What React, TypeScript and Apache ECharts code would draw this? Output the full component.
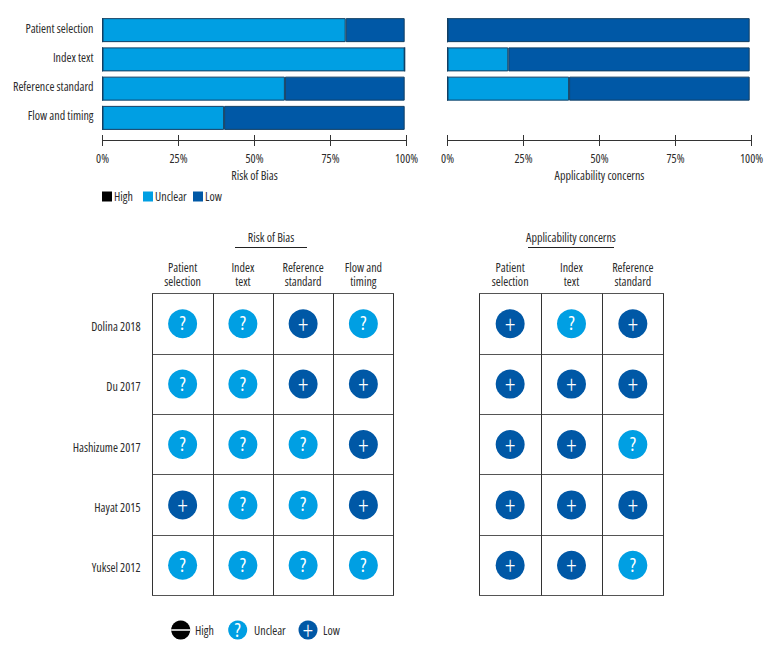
import React, { useEffect, useRef } from "react";
import * as echarts from "echarts";

const FONT = '"Open Sans", "Noto Sans", sans-serif';
const TEXT = "#2b2b2b";
const UNCLEAR = "#009FE3";
const LOW = "#0058A6";
const HIGH = "#000000";
const EDGE = "#123F63";

const summaryDomains = ["Patient selection", "Index text", "Reference standard", "Flow and timing"];
const riskUnclear = [80, 99.4, 60, 40];
const riskLow = [19.4, 0, 39.4, 59.4];
const riskHigh = [0, 0, 0, 0];
const applicabilityUnclear = [0, 20, 40, null];
const applicabilityLow = [99.4, 79.4, 59.4, null];
const applicabilityHigh = [0, 0, 0, null];
const percentTicks = ["0%", "25%", "50%", "75%", "100%"];

const studies = ["Dolina 2018", "Du 2017", "Hashizume 2017", "Hayat 2015", "Yuksel 2012"];
const riskColumns = ["Patient\nselection", "Index\ntext", "Reference\nstandard", "Flow and\ntiming"];
const applicabilityColumns = ["Patient\nselection", "Index\ntext", "Reference\nstandard"];
const riskJudgements = [
  ["?", "?", "+", "?"],
  ["?", "?", "+", "+"],
  ["?", "?", "?", "+"],
  ["+", "?", "?", "+"],
  ["?", "?", "?", "?"],
];
const applicabilityJudgements = [
  ["+", "?", "+"],
  ["+", "+", "+"],
  ["+", "+", "?"],
  ["+", "+", "+"],
  ["+", "+", "?"],
];

const FS = 12;

const toPoints = (rows: string[][]) =>
  rows.flatMap((row, y) =>
    row.map((mark, x) => ({
      value: [x, y],
      mark,
      itemStyle: { color: mark === "+" ? LOW : UNCLEAR, opacity: 1 },
      label:
        mark === "+"
          ? { fontSize: 25, fontWeight: 300, offset: [0, 0] }
          : { fontSize: 20, fontWeight: 400, offset: [0, -1] },
    }))
  );

const percentAxis = (gridIndex: number, name: string, main: boolean) => ({
  type: "value",
  gridIndex,
  min: 0,
  max: 100,
  interval: 25,
  position: "bottom",
  offset: 8,
  name: main ? name : undefined,
  nameLocation: "middle",
  nameGap: 29,
  nameTextStyle: { fontFamily: FONT, fontSize: FS, color: TEXT },
  splitLine: { show: false },
  axisLine: { show: true, lineStyle: { color: "#333", width: 1 } },
  axisTick: { show: true, inside: !main, length: 5.5, lineStyle: { color: "#333", width: 1 } },
  axisLabel: {
    show: main,
    margin: 12,
    fontFamily: FONT,
    fontSize: FS,
    color: TEXT,
    hideOverlap: false,
    showMinLabel: true,
    showMaxLabel: true,
    formatter: (v: number) => percentTicks[v / 25],
  },
});

const barCategoryAxis = (gridIndex: number, labels: boolean) => ({
  type: "category",
  gridIndex,
  data: summaryDomains,
  inverse: true,
  axisLine: { show: false },
  axisTick: { show: false },
  axisLabel: {
    show: labels,
    margin: 9,
    formatter: (v: string) => `{a|${v}}`,
    rich: { a: { fontFamily: FONT, fontSize: FS, color: TEXT, padding: [0, 0, 4, 0] } },
  },
});

const barSeries = (name: string, color: string, data: (number | null)[], axis: number) => ({
  type: "bar",
  name,
  stack: "s" + axis,
  xAxisIndex: axis,
  yAxisIndex: axis === 0 ? 0 : 1,
  data,
  barWidth: 24,
  itemStyle: { color, borderColor: EDGE, borderWidth: 1 },
});

const matrixX = (gridIndex: number, data: string[]) => ({
  type: "category",
  gridIndex,
  position: "top",
  data,
  axisLine: { show: false },
  axisTick: { show: false },
  splitLine: { show: true, interval: 0, lineStyle: { color: "#333", width: 1 } },
  axisLabel: { interval: 0, margin: 5, fontFamily: FONT, fontSize: FS, lineHeight: 14, color: TEXT },
});

const matrixY = (gridIndex: number, labels: boolean) => ({
  type: "category",
  gridIndex,
  data: studies,
  inverse: true,
  axisLine: { show: false },
  axisTick: { show: false },
  splitLine: { show: true, interval: 0, lineStyle: { color: "#555", width: 1 } },
  axisLabel: {
    show: labels,
    interval: 0,
    margin: 12,
    formatter: (v: string) => `{a|${v}}`,
    rich: { a: { fontFamily: FONT, fontSize: FS, color: TEXT, padding: [5, 0, 0, 0] } },
  },
});

const matrixSeries = (name: string, rows: string[][], xAxisIndex: number, yAxisIndex: number) => ({
  type: "scatter",
  name,
  xAxisIndex,
  yAxisIndex,
  symbol: "circle",
  symbolSize: 29,
  data: toPoints(rows),
  label: {
    show: true,
    position: "inside",
    color: "#fff",
    fontFamily: FONT,
    fontSize: 20,
    formatter: (p: any) => p.data.mark,
  },
});

const heading = (text: string, cx: number, half: number) => [
  { type: "text", x: cx, y: 237, style: { text, fontFamily: FONT, fontSize: FS, fill: TEXT, textAlign: "center", textVerticalAlign: "middle" } },
  { type: "line", shape: { x1: cx - half, y1: 247.5, x2: cx + half, y2: 247.5 }, style: { stroke: "#222", lineWidth: 1 } },
];

const legendDot = (cx: number, fill: string, mark: string, label: string, labelX: number) => [
  { type: "circle", shape: { cx, cy: 630, r: 9.5 }, style: { fill } },
  mark === "-"
    ? { type: "line", shape: { x1: cx - 9.5, y1: 630, x2: cx + 9.5, y2: 630 }, style: { stroke: "#fff", lineWidth: 1.5 } }
    : { type: "text", x: cx, y: mark === "?" ? 629 : 630, style: { text: mark, fontFamily: FONT, fontWeight: mark === "?" ? 400 : 300, fontSize: mark === "?" ? 20 : 25, fill: "#fff", textAlign: "center", textVerticalAlign: "middle" } },
  { type: "text", x: labelX, y: 630, style: { text: label, fontFamily: FONT, fontSize: FS, fill: TEXT, textAlign: "left", textVerticalAlign: "middle" } },
];

const legendItem = (name: string, left: number) => ({
  left,
  top: 190.5,
  padding: 0,
  itemWidth: 10,
  itemHeight: 10,
  selectedMode: false,
  icon: "rect",
  itemStyle: { borderWidth: 0 },
  data: [name],
  textStyle: { fontFamily: FONT, fontSize: FS, color: TEXT, padding: [0, 0, 0, -3] },
});

export default function App() {
  const ref = useRef<HTMLDivElement>(null);
  useEffect(() => {
    const chart = echarts.init(ref.current!, undefined, { renderer: "svg" });
    chart.setOption({
      animation: false,
      textStyle: { fontFamily: FONT },
      legend: [legendItem("High", 102), legendItem("Unclear", 143), legendItem("Low", 193)],
      grid: [
        { left: 102.5, top: 15.5, width: 304, height: 117, outerBoundsMode: "none" },
        { left: 447.5, top: 15.5, width: 304, height: 117, outerBoundsMode: "none" },
        { left: 152.5, top: 293.5, width: 241, height: 302, show: true, borderColor: "#555", borderWidth: 1, outerBoundsMode: "none" },
        { left: 479.5, top: 293.5, width: 184, height: 302, show: true, borderColor: "#555", borderWidth: 1, outerBoundsMode: "none" },
      ],
      xAxis: [
        percentAxis(0, "Risk of Bias", true),
        percentAxis(0, "", false),
        percentAxis(1, "Applicability concerns", true),
        percentAxis(1, "", false),
        matrixX(2, riskColumns),
        matrixX(3, applicabilityColumns),
      ],
      yAxis: [barCategoryAxis(0, true), barCategoryAxis(1, false), matrixY(2, true), matrixY(3, false)],
      series: [
        barSeries("High", HIGH, riskHigh, 0),
        barSeries("Unclear", UNCLEAR, riskUnclear, 0),
        barSeries("Low", LOW, riskLow, 0),
        barSeries("High", HIGH, applicabilityHigh, 2),
        barSeries("Unclear", UNCLEAR, applicabilityUnclear, 2),
        barSeries("Low", LOW, applicabilityLow, 2),
        matrixSeries("Risk of Bias judgements", riskJudgements, 4, 2),
        matrixSeries("Applicability judgements", applicabilityJudgements, 5, 3),
      ],
      graphic: [
        ...heading("Risk of Bias", 271, 36),
        ...heading("Applicability concerns", 571, 43),
        ...legendDot(180.7, HIGH, "-", "High", 195),
        ...legendDot(237.7, UNCLEAR, "?", "Unclear", 254),
        ...legendDot(308, LOW, "+", "Low", 323),
      ],
    });
    return () => chart.dispose();
  }, []);
  return (
    <>
      <style>{`svg text { font-stretch: 75% !important; }`}</style>
      <div ref={ref} style={{ position: "absolute", left: 0, top: 0, width: 780, height: 660 }} />
    </>
  );
}
